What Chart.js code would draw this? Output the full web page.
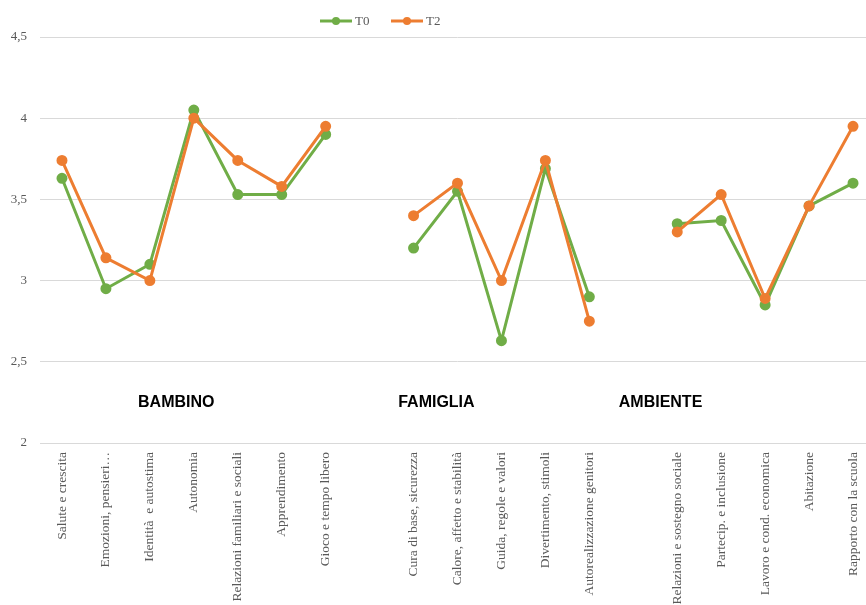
<!DOCTYPE html>
<html>
<head>
<meta charset="utf-8">
<script src="https://cdn.jsdelivr.net/npm/chart.js@4/dist/chart.umd.min.js"></script>
<style>
    html, body { margin: 0; padding: 0; background: #fff; overflow: hidden; }
    #wrap { width: 882px; height: 605px; }
</style>
</head>
<body>
<div id="wrap"><canvas id="chart" width="882" height="605"></canvas></div>
<script>
// categories ('' = empty slot between the three groups)
const categories = [
    'Salute e crescita', 'Emozioni, pensieri…', 'Identità  e autostima', 'Autonomia',
    'Relazioni familiari e sociali', 'Apprendimento', 'Gioco e tempo libero',
    '',
    'Cura di base, sicurezza', 'Calore, affetto e stabilità', 'Guida, regole e valori',
    'Divertimento, stimoli', 'Autorealizzazione genitori',
    '',
    'Relazioni e sostegno sociale', 'Partecip. e inclusione', 'Lavoro e cond. economica',
    'Abitazione', 'Rapporto con la scuola'
];

const t0Values = [3.63, 2.95, 3.10, 4.05, 3.53, 3.53, 3.90, null,
                  3.20, 3.55, 2.63, 3.69, 2.90, null,
                  3.35, 3.37, 2.85, 3.46, 3.60];
const t2Values = [3.74, 3.14, 3.00, 4.00, 3.74, 3.58, 3.95, null,
                  3.40, 3.60, 3.00, 3.74, 2.75, null,
                  3.30, 3.53, 2.89, 3.46, 3.95];

const yTicks = [2, 2.5, 3, 3.5, 4, 4.5];
const groupNames = ['BAMBINO', 'FAMIGLIA', 'AMBIENTE'];

const GREEN = '#70ad47';
const ORANGE = '#ed7d31';
const GREY_TEXT = '#595959';

// group titles placed inside the plot, like the text boxes in the original
const groupLabels = {
    id: 'groupLabels',
    afterDatasetsDraw(chart) {
        const { ctx, scales: { x, y } } = chart;
        const spots = [2.6, 8.52, 13.62];
        ctx.save();
        ctx.font = 'bold 16px "Liberation Sans", Arial, sans-serif';
        ctx.fillStyle = '#000';
        ctx.textAlign = 'center';
        ctx.textBaseline = 'middle';
        groupNames.forEach((name, i) => {
            ctx.fillText(name, x.getPixelForValue(spots[i]), y.getPixelForValue(2.25));
        });
        ctx.restore();
    }
};

// legend: line + marker, as Excel draws it
const lineLegend = {
    id: 'lineLegend',
    afterDraw(chart) {
        const ctx = chart.ctx;
        const items = [
            { text: 'T0', color: GREEN, x: 320 },
            { text: 'T2', color: ORANGE, x: 391 }
        ];
        const yPos = 21;
        ctx.save();
        items.forEach(item => {
            ctx.strokeStyle = item.color;
            ctx.lineWidth = 3;
            ctx.beginPath();
            ctx.moveTo(item.x, yPos);
            ctx.lineTo(item.x + 32, yPos);
            ctx.stroke();
            ctx.fillStyle = item.color;
            ctx.beginPath();
            ctx.arc(item.x + 16, yPos, 4, 0, Math.PI * 2);
            ctx.fill();
            ctx.fillStyle = GREY_TEXT;
            ctx.font = '13px "Liberation Serif", "Times New Roman", serif';
            ctx.textAlign = 'left';
            ctx.textBaseline = 'middle';
            ctx.fillText(item.text, item.x + 35, yPos + 1);
        });
        ctx.restore();
    }
};

document.addEventListener('DOMContentLoaded', () => {
    const ctx = document.getElementById('chart').getContext('2d');
    new Chart(ctx, {
        type: 'line',
        data: {
            labels: categories,
            datasets: [
                {
                    label: 'T0',
                    data: t0Values,
                    borderColor: GREEN,
                    backgroundColor: GREEN,
                    borderWidth: 3,
                    pointRadius: 4,
                    pointHoverRadius: 4,
                    spanGaps: false,
                    order: 1
                },
                {
                    label: 'T2',
                    data: t2Values,
                    borderColor: ORANGE,
                    backgroundColor: ORANGE,
                    borderWidth: 3,
                    pointRadius: 4,
                    pointHoverRadius: 4,
                    spanGaps: false,
                    order: 0
                }
            ]
        },
        options: {
            responsive: false,
            animation: false,
            layout: { padding: { top: 37, right: 0, left: 0, bottom: 0 } },
            plugins: {
                legend: { display: false },
                tooltip: { enabled: false }
            },
            scales: {
                x: {
                    offset: true,
                    grid: { display: false, drawTicks: false },
                    border: { color: '#d9d9d9' },
                    afterFit: (scale) => { scale.height = 162; },
                    ticks: {
                        autoSkip: false,
                        maxRotation: 90,
                        minRotation: 90,
                        padding: 9,
                        color: GREY_TEXT,
                        font: { family: '"Liberation Serif", "Times New Roman", serif', size: 13.5 }
                    }
                },
                y: {
                    min: 2,
                    max: 4.5,
                    afterFit: (scale) => { scale.width = 40; },
                    afterBuildTicks: (scale) => { scale.ticks = yTicks.map(v => ({ value: v })); },
                    grid: { color: '#d9d9d9', lineWidth: 1, drawTicks: false },
                    border: { display: false },
                    ticks: {
                        padding: 13,
                        color: GREY_TEXT,
                        font: { family: '"Liberation Serif", "Times New Roman", serif', size: 13 },
                        callback: (v) => String(v).replace('.', ',')
                    }
                }
            }
        },
        plugins: [groupLabels, lineLegend]
    });
});
</script>
</body>
</html>
